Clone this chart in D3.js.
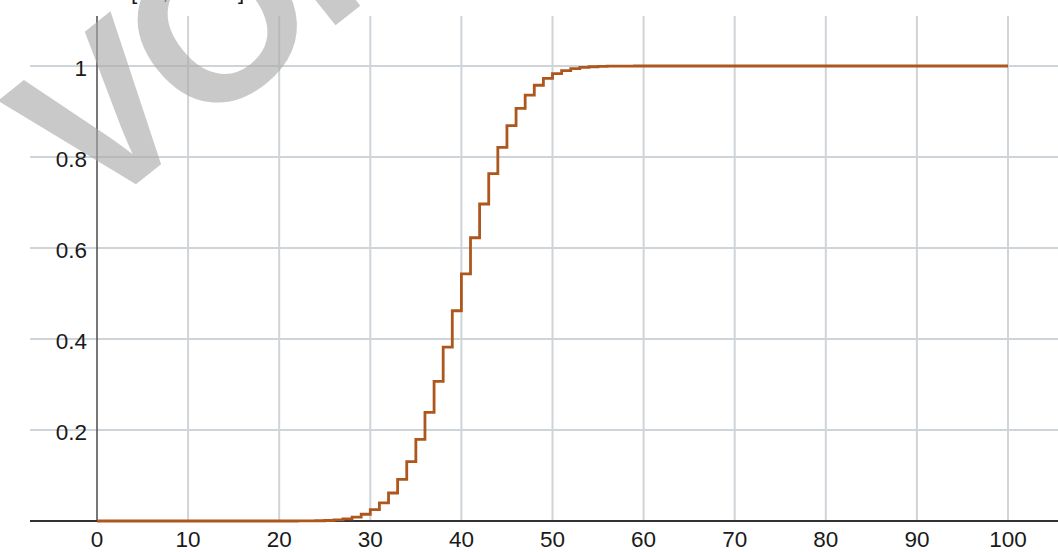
<!DOCTYPE html>
<html>
<head>
<meta charset="utf-8">
<script src="https://cdn.jsdelivr.net/npm/d3@7"></script>
<style>
  html, body { margin: 0; padding: 0; background: #fff; }
  svg { display: block; }
  text { font-family: "Liberation Sans", Arial, sans-serif; }
</style>
</head>
<body>
<svg id="chart" width="1058" height="552"></svg>
<script>
// ---- data ----
const xTicks = [0, 10, 20, 30, 40, 50, 60, 70, 80, 90, 100];
const yTicks = [0.2, 0.4, 0.6, 0.8, 1];
const yTickLabels = ["0.2", "0.4", "0.6", "0.8", "1"];
const kValues = [
  0,1,2,3,4,5,6,7,8,9,10,11,12,13,14,15,16,17,18,19,20,
  21,22,23,24,25,26,27,28,29,30,31,32,33,34,35,36,37,38,39,40,
  41,42,43,44,45,46,47,48,49,50,51,52,53,54,55,56,57,58,59,60,
  61,62,63,64,65,66,67,68,69,70,71,72,73,74,75,76,77,78,79,80,
  81,82,83,84,85,86,87,88,89,90,91,92,93,94,95,96,97,98,99,100
];
const cdfValues = [
  0,0,0,0,0,0,0,0,0,0,0,
  0,0,0,0,0,0,0,0,0,0,
  0,0.0001,0.0002,0.0005,0.0011,0.0024,0.0046,0.0084,0.0148,0.0248,
  0.0398,0.0615,0.0913,0.1303,0.1795,0.2386,0.3068,0.3822,0.4621,0.5433,
  0.6225,0.6967,0.7635,0.8211,0.8689,0.9070,0.9362,0.9577,0.9729,0.9832,
  0.9900,0.9942,0.9968,0.9983,0.9991,0.9996,0.9998,0.9999,1,1,
  1,1,1,1,1,1,1,1,1,1,
  1,1,1,1,1,1,1,1,1,1,
  1,1,1,1,1,1,1,1,1,1,
  1,1,1,1,1,1,1,1,1,1
];
const topLabel = "[40, n=100]";
const watermark = "VORSCHAU";

// ---- layout ----
const svg = d3.select("#chart");
const x = d3.scaleLinear().domain([0, 100]).range([97, 1008]);
const y = d3.scaleLinear().domain([0, 1]).range([521, 66]);
const gridTop = 16, gridLeft = 30, gridRight = 1058;

// vertical grid
svg.append("g").selectAll("line")
  .data(xTicks.filter(d => d !== 0))
  .join("line")
  .attr("x1", d => x(d)).attr("x2", d => x(d))
  .attr("y1", gridTop).attr("y2", y(0))
  .attr("stroke", "#cfd4d8").attr("stroke-width", 2);

// horizontal grid
svg.append("g").selectAll("line")
  .data(yTicks)
  .join("line")
  .attr("x1", gridLeft).attr("x2", gridRight)
  .attr("y1", d => y(d)).attr("y2", d => y(d))
  .attr("stroke", "#cfd4d8").attr("stroke-width", 2);

// axes lines
svg.append("line")
  .attr("x1", x(0)).attr("x2", x(0))
  .attr("y1", gridTop).attr("y2", y(0))
  .attr("stroke", "#555").attr("stroke-width", 1.6);
svg.append("line")
  .attr("x1", gridLeft).attr("x2", gridRight)
  .attr("y1", y(0)).attr("y2", y(0))
  .attr("stroke", "#333").attr("stroke-width", 1.8);

// tick labels
svg.append("g").selectAll("text")
  .data(xTicks)
  .join("text")
  .attr("x", d => x(d)).attr("y", 547)
  .attr("text-anchor", "middle")
  .attr("font-size", 22.5).attr("fill", "#1a1a1a")
  .text(d => d);
svg.append("g").selectAll("text")
  .data(yTicks)
  .join("text")
  .attr("x", 87).attr("y", d => y(d) + 10)
  .attr("text-anchor", "end")
  .attr("font-size", 22.5).attr("fill", "#1a1a1a")
  .text((d, i) => yTickLabels[i]);

// step line
const pts = kValues.map((k, i) => [k, cdfValues[i]]);
const line = d3.line().x(d => x(d[0])).y(d => y(d[1])).curve(d3.curveStepAfter);
svg.append("path")
  .datum(pts)
  .attr("d", line)
  .attr("fill", "none")
  .attr("stroke", "#ad561d")
  .attr("stroke-width", 2.8)
  .attr("stroke-linejoin", "miter");

// clipped label at top
svg.append("text")
  .attr("x", 131).attr("y", -1)
  .attr("font-size", 22.5).attr("fill", "#1a1a1a")
  .text(topLabel);

// watermark
svg.append("text")
  .attr("transform", "translate(91,220) rotate(-38.5)")
  .attr("font-size", 220).attr("font-weight", "bold")
  .attr("letter-spacing", -10)
  .attr("fill", "#a8a8a8").attr("fill-opacity", 0.62)
  .text(watermark);
</script>
</body>
</html>
